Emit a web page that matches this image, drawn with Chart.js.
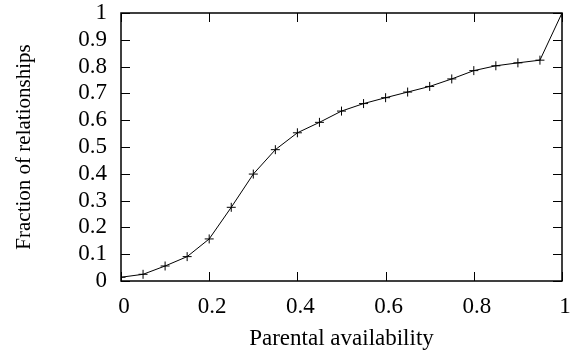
<!DOCTYPE html>
<html>
<head>
<meta charset="utf-8">
<script src="https://cdn.jsdelivr.net/npm/chart.js@4/dist/chart.umd.min.js"></script>
<style>
  html, body { margin: 0; padding: 0; background: #fff; }
  #wrap { width: 575px; height: 354px; }
</style>
</head>
<body>
<div id="wrap"><canvas id="grafica" width="575" height="354"></canvas></div>
<script>
// valores
const disponibilidad = [0, 0.05, 0.1, 0.15, 0.2, 0.25, 0.3, 0.35, 0.4, 0.45, 0.5,
  0.55, 0.6, 0.65, 0.7, 0.75, 0.8, 0.85, 0.9, 0.95, 1];
const fraccion = [0.014, 0.025, 0.056, 0.091, 0.157, 0.275, 0.399, 0.49, 0.553, 0.592, 0.634,
  0.662, 0.684, 0.705, 0.726, 0.754, 0.785, 0.803, 0.814, 0.824, 1.0];
const xTicks = [0, 0.2, 0.4, 0.6, 0.8, 1];
const yTicks = [0, 0.1, 0.2, 0.3, 0.4, 0.5, 0.6, 0.7, 0.8, 0.9, 1];

const serif = "'Liberation Serif', 'DejaVu Serif', serif";

// sin relleno extra por las etiquetas de los extremos
const sinRelleno = s => {
  s.paddingLeft = 0; s.paddingRight = 0;
  s.paddingTop = 0; s.paddingBottom = 0;
};

// marco y marcas hacia adentro, estilo gnuplot
const marco = {
  id: 'marco',
  afterDatasetsDraw(chart) {
    const {ctx, chartArea: a, scales} = chart;
    const len = 9;
    ctx.save();
    ctx.strokeStyle = '#000';
    ctx.lineWidth = 1;
    ctx.beginPath();
    yTicks.forEach(v => {
      const y = Math.round(scales.y.getPixelForValue(v)) + 0.5;
      ctx.moveTo(a.left, y); ctx.lineTo(a.left + len, y);
      ctx.moveTo(a.right, y); ctx.lineTo(a.right - len, y);
    });
    xTicks.forEach(v => {
      const x = Math.round(scales.x.getPixelForValue(v)) + 0.5;
      ctx.moveTo(x, a.bottom); ctx.lineTo(x, a.bottom - len);
      ctx.moveTo(x, a.top); ctx.lineTo(x, a.top + len);
    });
    ctx.stroke();
    ctx.lineWidth = 1.5;
    ctx.strokeRect(a.left, a.top, a.right - a.left, a.bottom - a.top);
    ctx.restore();
  }
};

new Chart(document.querySelector('#grafica'), {
  type: 'scatter',
  data: {
    datasets: [{
      data: disponibilidad.map((x, i) => ({x: x, y: fraccion[i]})),
      showLine: true,
      borderColor: '#000',
      borderWidth: 1,
      pointStyle: 'cross',
      pointRadius: 4.5,
      pointBorderWidth: 1,
      pointBorderColor: '#000',
      tension: 0
    }]
  },
  options: {
    responsive: false,
    animation: false,
    layout: { padding: { top: 13, right: 13, left: 0, bottom: 0 } },
    scales: {
      x: {
        type: 'linear',
        min: 0, max: 1,
        afterBuildTicks: s => { s.ticks = xTicks.map(v => ({value: v})); },
        afterFit: s => { s.height = 73; sinRelleno(s); },
        grid: { display: false, drawTicks: false },
        border: { display: false },
        ticks: {
          color: '#000', font: { family: serif, size: 23 }, padding: 12, labelOffset: 3,
          maxRotation: 0, autoSkip: false, callback: v => String(v)
        },
        title: {
          display: true, text: 'Parental availability', color: '#000',
          font: { family: serif, size: 23 }, padding: { top: 0, bottom: 1 }
        }
      },
      y: {
        min: 0, max: 1,
        afterBuildTicks: s => { s.ticks = yTicks.map(v => ({value: v})); },
        afterFit: s => { s.width = 121; sinRelleno(s); },
        grid: { display: false, drawTicks: false },
        border: { display: false },
        ticks: {
          color: '#000', font: { family: serif, size: 23 }, padding: 14,
          autoSkip: false, callback: v => String(v)
        },
        title: {
          display: true, text: 'Fraction of relationships', color: '#000',
          font: { family: serif, size: 21 }, padding: { top: 12, bottom: 0 }
        }
      }
    },
    plugins: {
      legend: { display: false },
      tooltip: { enabled: false }
    }
  },
  plugins: [marco]
});
</script>
</body>
</html>
